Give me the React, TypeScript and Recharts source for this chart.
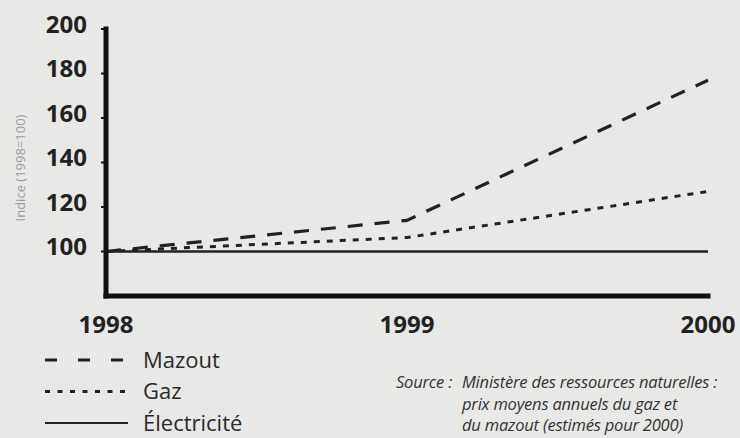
import React from "react";
import { LineChart, Line, XAxis, YAxis, Legend } from "recharts";

const years = [1998, 1999, 2000];
const mazout = [100, 114, 177];
const gaz = [100, 106.3, 127];
const electricite = [100, 100, 100];
const yTicks = [100, 120, 140, 160, 180, 200];

const seriesNames = ["Mazout", "Gaz", "Électricité"];
const sourceLines = [
  "Ministère des ressources naturelles :",
  "prix moyens annuels du gaz et",
  "du mazout (estimés pour 2000)",
];

const data = years.map((year, i) => ({
  year,
  mazout: mazout[i],
  gaz: gaz[i],
  electricite: electricite[i],
}));

const ink = "#222";
const font = "'Open Sans', 'Noto Sans', sans-serif";

function YTick({ x, y, payload }: any) {
  return (
    <text
      x={x}
      y={y - 5}
      dy="0.36em"
      textAnchor="end"
      fontFamily={font}
      fontWeight={700}
      fontSize={24}
      fill={ink}
    >
      {payload.value}
    </text>
  );
}

function XTick({ x, y, payload }: any) {
  return (
    <text
      x={x}
      y={y}
      dy="0.71em"
      textAnchor="middle"
      fontFamily={font}
      fontWeight={700}
      fontSize={24}
      fill={ink}
    >
      {payload.value}
    </text>
  );
}

function LegendBox() {
  const dashes = ["12 21", "5 7.5", undefined];
  return (
    <svg width={260} height={98} style={{ display: "block" }}>
      {seriesNames.map((name, i) => {
        const cy = 20 + i * 31.5;
        return (
          <g key={name}>
            <line
              x1={45}
              x2={128}
              y1={cy}
              y2={cy}
              stroke={ink}
              strokeWidth={i === 2 ? 2.2 : 3}
              strokeDasharray={dashes[i]}
            />
            <text
              x={143}
              y={cy}
              dy="0.36em"
              fontFamily={font}
              fontSize={22}
              fill="#2a2a2a"
            >
              {name}
            </text>
          </g>
        );
      })}
    </svg>
  );
}

export default function App() {
  return (
    <div
      style={{
        position: "absolute",
        left: 0,
        top: 0,
        width: 740,
        height: 438,
        background: "#e8e8e6",
        overflow: "hidden",
      }}
    >
      <LineChart
        width={740}
        height={438}
        data={data}
        margin={{ top: 29, right: 32, bottom: 102, left: 0 }}
      >
        <XAxis
          dataKey="year"
          type="number"
          domain={[1998, 2000]}
          ticks={years}
          height={40}
          axisLine={{ stroke: "#111", strokeWidth: 5, strokeLinecap: "square" }}
          tickLine={false}
          tickMargin={14}
          tick={<XTick />}
          interval={0}
        />
        <YAxis
          type="number"
          domain={[80, 200]}
          ticks={yTicks}
          width={106}
          axisLine={{ stroke: "#111", strokeWidth: 5, strokeLinecap: "square" }}
          tickLine={{ stroke: "#111", strokeWidth: 2 }}
          tickSize={5}
          tickMargin={14}
          tick={<YTick />}
          interval={0}
          label={{
            content: () => (
              <text
                transform="translate(20,168) rotate(-90)"
                textAnchor="middle"
                dy="0.36em"
                fontFamily={font}
                fontSize={13}
                fill="#9a9a9a"
              >
                Indice (1998=100)
              </text>
            ),
          }}
        />
        <Line
          type="linear"
          dataKey="electricite"
          stroke={ink}
          strokeWidth={2.5}
          dot={false}
          activeDot={false}
          isAnimationActive={false}
        />
        <Line
          type="linear"
          dataKey="gaz"
          stroke={ink}
          strokeWidth={3}
          strokeDasharray="6 7"
          dot={false}
          activeDot={false}
          isAnimationActive={false}
        />
        <Line
          type="linear"
          dataKey="mazout"
          stroke={ink}
          strokeWidth={3.2}
          strokeDasharray="15 12"
          dot={false}
          activeDot={false}
          isAnimationActive={false}
        />
        <Legend
          layout="horizontal"
          verticalAlign="middle"
          align="center"
          content={() => <LegendBox />}
          wrapperStyle={{ left: 0, top: 340, width: 260, height: 98 }}
        />
      </LineChart>
      <div
        style={{
          position: "absolute",
          left: 396,
          top: 371,
          fontFamily: font,
          fontStyle: "italic",
          fontSize: 16.5,
          lineHeight: "21.5px",
          color: "#333",
          whiteSpace: "nowrap",
          letterSpacing: -0.2,
        }}
      >
        <div>
          <span style={{ display: "inline-block", width: 66 }}>Source :</span>
          {sourceLines[0]}
        </div>
        <div style={{ paddingLeft: 66 }}>{sourceLines[1]}</div>
        <div style={{ paddingLeft: 66 }}>{sourceLines[2]}</div>
      </div>
    </div>
  );
}
